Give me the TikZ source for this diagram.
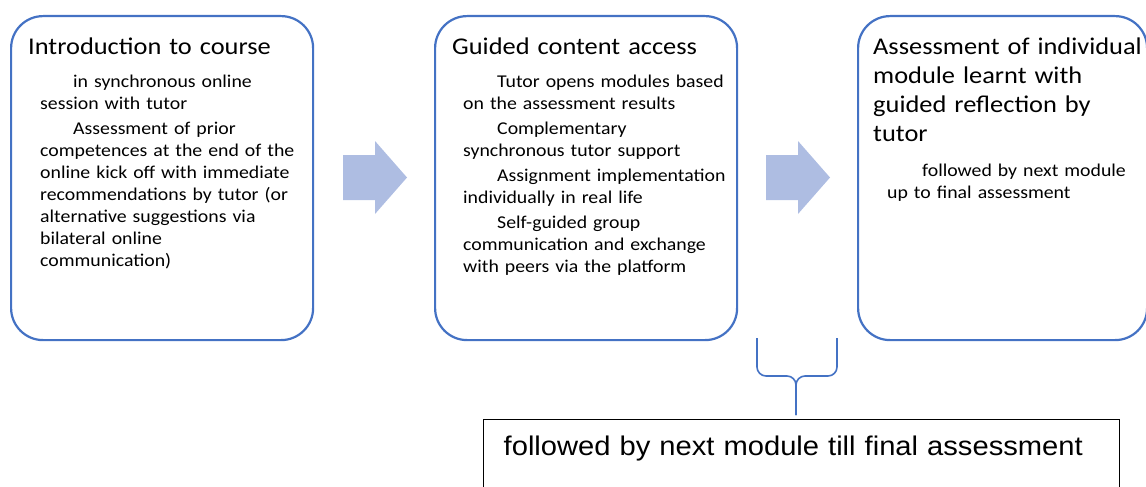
\documentclass[tikz,border=0pt]{standalone}
\usepackage{fontspec}
\setmainfont{Carlito}[FakeStretch=1.1]
\newfontfamily\notefont{Liberation Sans}[FakeStretch=1.08]
\definecolor{boxblue}{RGB}{68,114,196}
\definecolor{arrowblue}{RGB}{174,189,226}

\begin{document}
\begin{tikzpicture}[x=1pt,y=-1pt,
	stage/.style={draw=boxblue,line width=2.2pt,rounded corners=32pt,minimum width=302pt,minimum height=324pt,inner sep=0pt,anchor=north west},
	stagetitle/.style={anchor=base west,inner sep=0pt,text width=300pt,align=left,font=\fontsize{24}{29}\selectfont},
	stagetext/.style={anchor=base west,inner sep=0pt,text width=280pt,align=left,font=\fontsize{18}{22}\selectfont},
	flow/.style={fill=arrowblue},
	curly/.style={draw=boxblue,line width=1.6pt,rounded corners=9pt},
	notebox/.style={draw,line width=1.4pt,anchor=north west,text width=596pt,inner xsep=20pt,inner ysep=16pt,text height=20pt,text depth=60pt,align=left,font=\notefont\fontsize{27}{32}\selectfont}]
	\clip (0,0) rectangle (1146,487);
	% the three stages
	\node[stage] (intro) at (10,15) {};
	\node[stage] (guided) at (434,15) {};
	\node[stage,minimum width=289pt] (assess) at (857,15) {};
	\node[stagetitle] (introtitle) at (28,55) {Introduction to course};
	\node[stagetext] (introtext) at (40,88) {\hspace*{33pt}in synchronous online\\ session with tutor\\[3pt] \hspace*{33pt}Assessment of prior\\ competences at the end of the\\ online kick off with immediate\\ recommendations by tutor (or\\ alternative suggestions via\\ bilateral online\\ communication)};
	\node[stagetitle] (guidedtitle) at (452,55) {Guided content access};
	\node[stagetext] (guidedtext) at (463,88) {\hspace*{34pt}Tutor opens modules based\\ on the assessment results\\[3pt] \hspace*{34pt}Complementary\\ synchronous tutor support\\[3pt] \hspace*{34pt}Assignment implementation\\ individually in real life\\[3pt] \hspace*{34pt}Self-guided group\\ communication and exchange\\ with peers via the platform};
	\node[stagetitle] (assesstitle) at (873,55) {Assessment of individual\\ module learnt with\\ guided reflection by\\ tutor};
	\node[stagetext] (assesstext) at (887,176) {\hspace*{35pt}followed by next module\\ up to final assessment};
	% block arrows between the stages
	\foreach \x in {343,766}
		\fill[flow] (\x,155) -- ++(32,0) -- ++(0,-14) -- ++(32,36.5) -- ++(-32,36.5) -- ++(0,-14) -- ++(-32,0) -- cycle;
	% brace and note
	\node[notebox] (nextstep) at (483,419) {followed by next module till final assessment};
	\coordinate (bracetip) at (796,415);
	\draw[curly] (757,338) -- (757,376) -- (796,376) -- (bracetip);
	\draw[curly] (837,338) -- (837,376) -- (796,376) -- (bracetip);
\end{tikzpicture}
\end{document}
